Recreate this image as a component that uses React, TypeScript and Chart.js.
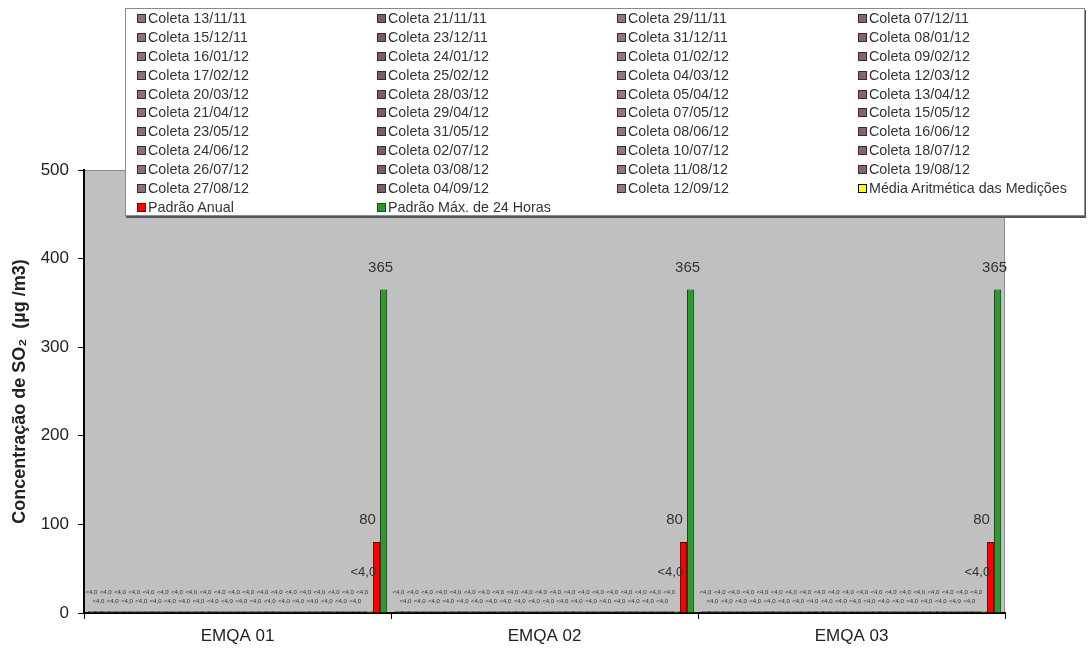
import React, { useEffect, useRef } from "react";
import { Chart, registerables } from "chart.js";

Chart.register(...registerables);

const categories = ["EMQA 01", "EMQA 02", "EMQA 03"];

const collectionDates = [
  "13/11/11", "21/11/11", "29/11/11", "07/12/11",
  "15/12/11", "23/12/11", "31/12/11", "08/01/12",
  "16/01/12", "24/01/12", "01/02/12", "09/02/12",
  "17/02/12", "25/02/12", "04/03/12", "12/03/12",
  "20/03/12", "28/03/12", "05/04/12", "13/04/12",
  "21/04/12", "29/04/12", "07/05/12", "15/05/12",
  "23/05/12", "31/05/12", "08/06/12", "16/06/12",
  "24/06/12", "02/07/12", "10/07/12", "18/07/12",
  "26/07/12", "03/08/12", "11/08/12", "19/08/12",
  "27/08/12", "04/09/12", "12/09/12",
];

// plotted heights of the "<4,0" results (below detection limit), per station
const emqa01Values = [
  2, 2, 2, 2, 2, 2, 2, 2, 2, 2, 2, 2, 2, 2, 2, 2, 2, 2, 2, 2,
  2, 2, 2, 2, 2, 2, 2, 2, 2, 2, 2, 2, 2, 2, 2, 2, 2, 2, 2,
];
const emqa02Values = [
  2, 2, 2, 2, 2, 2, 2, 2, 2, 2, 2, 2, 2, 2, 2, 2, 2, 2, 2, 2,
  2, 2, 2, 2, 2, 2, 2, 2, 2, 2, 2, 2, 2, 2, 2, 2, 2, 2, 2,
];
const emqa03Values = [
  2, 2, 2, 2, 2, 2, 2, 2, 2, 2, 2, 2, 2, 2, 2, 2, 2, 2, 2, 2,
  2, 2, 2, 2, 2, 2, 2, 2, 2, 2, 2, 2, 2, 2, 2, 2, 2, 2, 2,
];
const collectionLabel = "<4,0";

const mediaValues = [2, 2, 2];
const mediaLabels = ["<4,0", "<4,0", "<4,0"];
const padraoAnualValues = [80, 80, 80];
const padraoMax24hValues = [365, 365, 365];

const yTickValues = [0, 100, 200, 300, 400, 500];

const collectionColors = ["#8e6f74", "#7e5c63", "#94777b", "#86646a"];
const FONT = "'Liberation Sans', Arial, Helvetica, sans-serif";

type Item = { label: string; color: string; border: string };

const legendItems: Item[] = [
  ...collectionDates.map((d, i) => ({
    label: "Coleta " + d,
    color: collectionColors[i % collectionColors.length],
    border: "#3a2a2d",
  })),
  { label: "Média Aritmética das Medições", color: "#ffff00", border: "#000" },
  { label: "Padrão Anual", color: "#ff0000", border: "#800000" },
  { label: "Padrão Máx. de 24 Horas", color: "#2e9a2e", border: "#1b4d1b" },
];

const plotBg = {
  id: "plotBg",
  beforeDraw(chart: any) {
    const { ctx, chartArea } = chart;
    const { left, top, right, bottom } = chartArea;
    ctx.save();
    ctx.fillStyle = "#c0c0c0";
    ctx.fillRect(left, top, right - left, bottom - top);
    ctx.strokeStyle = "#8a8a8a";
    ctx.lineWidth = 1;
    ctx.strokeRect(left + 0.5, top + 0.5, right - left - 1, bottom - top);
    ctx.restore();
  },
};

const valueLabels = {
  id: "valueLabels",
  afterDatasetsDraw(chart: any) {
    const { ctx, chartArea } = chart;
    const nColl = collectionDates.length;
    ctx.save();
    ctx.fillStyle = "#333";
    ctx.textAlign = "center";
    ctx.textBaseline = "middle";
    chart.data.datasets.forEach((ds: any, di: number) => {
      const meta = chart.getDatasetMeta(di);
      meta.data.forEach((bar: any, ci: number) => {
        if (di < nColl) {
          ctx.font = `6px ${FONT}`;
          const y = chartArea.bottom - (di % 2 === 0 ? 21 : 12);
          ctx.fillText(collectionLabel, bar.x, y);
        } else if (di === nColl) {
          ctx.font = `13px ${FONT}`;
          ctx.fillText(mediaLabels[ci], bar.x - 6, chartArea.bottom - 41);
        } else if (di === nColl + 1) {
          ctx.font = `15px ${FONT}`;
          ctx.fillText(String(ds.data[ci]), bar.x - 9, bar.y - 22);
        } else {
          ctx.font = `15px ${FONT}`;
          ctx.fillText(String(ds.data[ci]), bar.x - 3, bar.y - 22);
        }
      });
    });
    ctx.restore();
  },
};

export default function App() {
  const canvasRef = useRef<HTMLCanvasElement | null>(null);

  useEffect(() => {
    if (!canvasRef.current) return;
    const stationSeries = [emqa01Values, emqa02Values, emqa03Values];
    const datasets: any[] = collectionDates.map((d, i) => ({
      label: "Coleta " + d,
      data: stationSeries.map((s) => s[i]),
      backgroundColor: collectionColors[i % collectionColors.length],
      borderColor: "#111",
      borderWidth: 1,
    }));
    datasets.push({
      label: "Média Aritmética das Medições",
      data: mediaValues,
      backgroundColor: "#ffff00",
      borderColor: "#333",
      borderWidth: 1,
    });
    datasets.push({
      label: "Padrão Anual",
      data: padraoAnualValues,
      backgroundColor: "#ff0000",
      borderColor: "#5a0000",
      borderWidth: 1,
    });
    datasets.push({
      label: "Padrão Máx. de 24 Horas",
      data: padraoMax24hValues,
      backgroundColor: "#2e9a2e",
      borderColor: "#123d12",
      borderWidth: 1,
    });

    const chart = new Chart(canvasRef.current, {
      type: "bar",
      data: { labels: categories, datasets },
      options: {
        responsive: false,
        animation: false,
        devicePixelRatio: 1,
        layout: { padding: { left: 0, right: 83, top: 170, bottom: 0 } },
        plugins: {
          legend: { display: false },
          tooltip: { enabled: false },
        },
        datasets: {
          bar: { categoryPercentage: 0.975, barPercentage: 1 },
        },
        scales: {
          x: {
            afterFit: (s: any) => {
              s.height = 35;
            },
            grid: {
              offset: true,
              drawOnChartArea: false,
              drawTicks: true,
              tickLength: 6,
              tickColor: "#000",
              color: "#000",
            },
            border: { display: true, color: "#000", width: 2 },
            ticks: {
              color: "#222",
              font: { family: FONT, size: 17 },
              padding: 7,
            },
          },
          y: {
            min: 0,
            max: 500,
            afterFit: (s: any) => {
              s.width = 84;
            },
            afterBuildTicks: (s: any) => {
              s.ticks = yTickValues.map((v) => ({ value: v }));
            },
            grid: {
              drawOnChartArea: false,
              drawTicks: true,
              tickLength: 6,
              tickColor: "#000",
              color: "#000",
            },
            border: { display: true, color: "#000", width: 2 },
            ticks: {
              color: "#222",
              font: { family: FONT, size: 17 },
              padding: 9,
            },
            title: {
              display: true,
              text: "Concentração de SO₂  (µg /m3)",
              color: "#222",
              font: { family: FONT, size: 18, weight: "bold" },
              padding: { top: 9, bottom: 0 },
            },
          },
        },
      },
      plugins: [plotBg, valueLabels],
    });
    return () => chart.destroy();
  }, []);

  return (
    <div
      style={{
        position: "fixed",
        left: 0,
        top: 0,
        width: 1088,
        height: 648,
        background: "#fff",
        fontFamily: FONT,
      }}
    >
      <canvas ref={canvasRef} width={1088} height={648} />
      <div
        style={{
          position: "absolute",
          left: 125,
          top: 8,
          width: 960,
          height: 208,
          boxSizing: "border-box",
          background: "#fff",
          border: "1px solid #8a8a8a",
          boxShadow: "1px 2px 0 #555",
          display: "grid",
          gridTemplateColumns: "240px 240px 241px 236px",
          gridAutoRows: "18.9px",
          paddingLeft: 11,
          paddingTop: 0,
        }}
      >
        {legendItems.map((it) => (
          <div
            key={it.label}
            style={{
              display: "flex",
              alignItems: "center",
              fontSize: 14.3,
              color: "#333",
              whiteSpace: "nowrap",
              lineHeight: "18.9px",
            }}
          >
            <span
              style={{
                display: "inline-block",
                width: 7,
                height: 7,
                background: it.color,
                border: `1px solid ${it.border}`,
                marginRight: 2,
              }}
            />
            {it.label}
          </div>
        ))}
      </div>
    </div>
  );
}
